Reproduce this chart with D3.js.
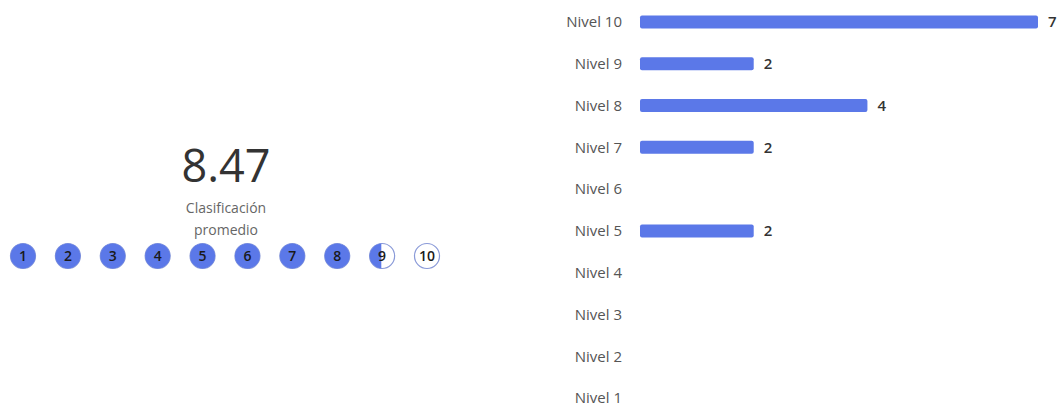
<!DOCTYPE html>
<html>
<head>
<meta charset="utf-8">
<script src="https://cdn.jsdelivr.net/npm/d3@7"></script>
<style>
  body { margin: 0; background: #fff; font-family: "Segoe UI", "Open Sans", "Noto Sans", sans-serif; }
</style>
</head>
<body>
<div id="chart"></div>
<script>
// data
const average = 8.47;
const averageLabel = ["Clasificación", "promedio"];
const ratingSteps = [1, 2, 3, 4, 5, 6, 7, 8, 9, 10];
const levels = ["Nivel 10", "Nivel 9", "Nivel 8", "Nivel 7", "Nivel 6", "Nivel 5", "Nivel 4", "Nivel 3", "Nivel 2", "Nivel 1"];
const counts = [7, 2, 4, 2, 0, 2, 0, 0, 0, 0];

const W = 1059, H = 407;
const blue = "#5b78e8";

let svg = d3.select("#chart").append("svg")
  .attr("width", W).attr("height", H);
let defs = svg.append("defs");

// left card: average score
let left = svg.append("g");
left.append("text")
  .attr("x", 226).attr("y", 182)
  .attr("text-anchor", "middle")
  .style("font-size", "45px")
  .style("fill", "#333")
  .text(average.toFixed(2));

left.selectAll(".sub").data(averageLabel).enter().append("text")
  .attr("x", 226).attr("y", (d, i) => 213 + i * 22)
  .attr("text-anchor", "middle")
  .style("font-size", "14px")
  .style("fill", "#666")
  .text(d => d);

// rating circles
let cx = d3.scalePoint().domain(ratingSteps).range([23, 427]);
const r = 12.5, cy = 256;

let dots = left.selectAll(".dot").data(ratingSteps).enter().append("g")
  .attr("transform", d => "translate(" + cx(d) + "," + cy + ")");

dots.append("circle")
  .attr("r", r)
  .attr("fill", "#fff")
  .attr("stroke", "#8a9ad8")
  .attr("stroke-width", 1.2);

// partial fill for each step, clipped by how much of the average reaches it
dots.each(function(d) {
  let frac = Math.max(0, Math.min(1, average - (d - 1)));
  if (frac <= 0) return;
  let id = "clip" + d;
  defs.append("clipPath").attr("id", id)
    .append("rect")
    .attr("x", -r - 1).attr("y", -r - 1)
    .attr("width", (2 * r + 2) * frac).attr("height", 2 * r + 2);
  d3.select(this).append("circle")
    .attr("r", r)
    .attr("fill", blue)
    .attr("clip-path", "url(#" + id + ")");
});

dots.append("text")
  .attr("dy", "0.36em")
  .attr("text-anchor", "middle")
  .style("font-size", "14px")
  .style("font-weight", "600")
  .style("fill", "#1a1a1a")
  .text(d => d);

// right: bar chart
let y = d3.scaleBand().domain(levels).range([1, 419]).paddingInner(0.69).paddingOuter(0.345);
let x = d3.scaleLinear().domain([0, 7]).range([640, 1038]);

let right = svg.append("g");
right.selectAll(".lbl").data(levels).enter().append("text")
  .attr("x", 622)
  .attr("y", d => y(d) + y.bandwidth() / 2)
  .attr("dy", "0.35em")
  .attr("text-anchor", "end")
  .style("font-size", "15px")
  .style("fill", "#555")
  .text(d => d);

let rows = levels.map((l, i) => ({ level: l, value: counts[i] })).filter(d => d.value > 0);

right.selectAll(".bar").data(rows).enter().append("rect")
  .attr("x", x(0))
  .attr("y", d => y(d.level))
  .attr("width", d => x(d.value) - x(0))
  .attr("height", y.bandwidth())
  .attr("rx", 2)
  .attr("fill", blue);

right.selectAll(".val").data(rows).enter().append("text")
  .attr("x", d => x(d.value) + 10)
  .attr("y", d => y(d.level) + y.bandwidth() / 2)
  .attr("dy", "0.35em")
  .style("font-size", "15px")
  .style("font-weight", "600")
  .style("fill", "#333")
  .text(d => d.value);
</script>
</body>
</html>
